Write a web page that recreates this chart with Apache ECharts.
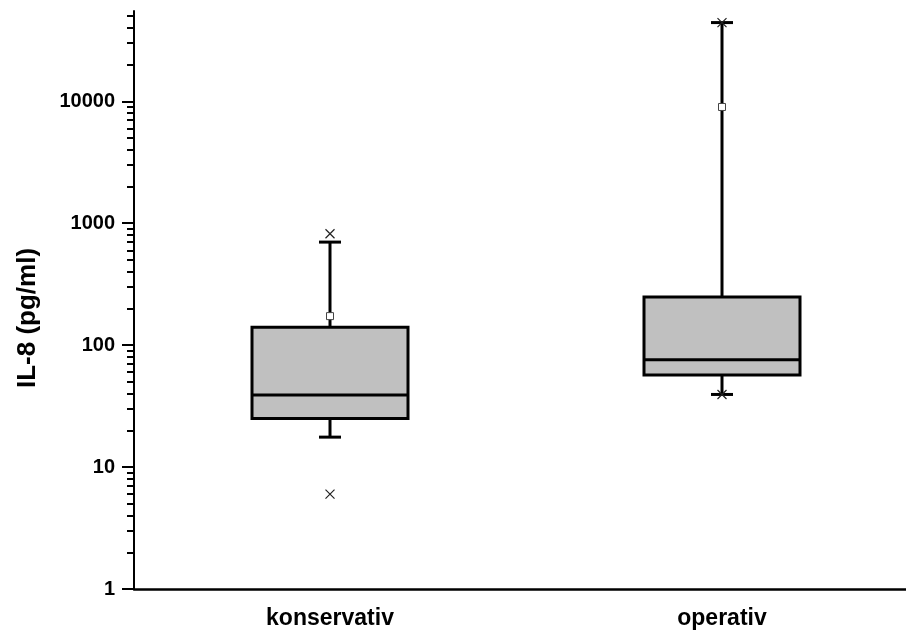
<!DOCTYPE html>
<html>
<head>
<meta charset="utf-8">
<script src="https://cdn.jsdelivr.net/npm/echarts@6/dist/echarts.min.js"></script>
<style>
  html, body { margin: 0; padding: 0; background: #fff; }
  #IL8Chart { width: 906px; height: 636px; }
</style>
</head>
<body>
<div id="IL8Chart"></div>
<script>
var groups = ['konservativ', 'operativ'];
var q1Data = [25, 57];
var medianData = [39, 76];
var q3Data = [140, 248];
var whiskerLow = [17.6, 39.4];
var whiskerHigh = [700, 44200];
var meanData = [173, 8980];
var minData = [6, 39.4];
var maxData = [820, 44200];
var majorTicks = [1, 10, 100, 1000, 10000];
var minorTicks = [2, 3, 4, 5, 6, 7, 8, 9, 20, 30, 40, 50, 60, 70, 80, 90,
  200, 300, 400, 500, 600, 700, 800, 900, 2000, 3000, 4000, 5000, 6000, 7000, 8000, 9000,
  20000, 30000, 40000, 50000];

var IL8Chart = echarts.init(document.getElementById('IL8Chart'));

var boxData = [];
var whiskerData = [];
var meanPoints = [];
var extremePoints = [];
for (var i = 0; i < groups.length; i++) {
  // box only, whiskers come from the custom series
  boxData.push([q1Data[i], q1Data[i], medianData[i], q3Data[i], q3Data[i]]);
  whiskerData.push([i, whiskerLow[i], q1Data[i], q3Data[i], whiskerHigh[i]]);
  meanPoints.push([i, meanData[i]]);
  extremePoints.push([i, minData[i]]);
  extremePoints.push([i, maxData[i]]);
}

function renderWhisker(params, api) {
  var x = api.value(0);
  var lo = api.coord([x, api.value(1)]);
  var b = api.coord([x, api.value(2)]);
  var t = api.coord([x, api.value(3)]);
  var hi = api.coord([x, api.value(4)]);
  var cap = 11;
  var st = { stroke: '#000', lineWidth: 3 };
  return {
    type: 'group',
    children: [
      { type: 'line', shape: { x1: hi[0], y1: hi[1], x2: t[0], y2: t[1] }, style: st },
      { type: 'line', shape: { x1: lo[0], y1: lo[1], x2: b[0], y2: b[1] }, style: st },
      { type: 'line', shape: { x1: hi[0] - cap, y1: hi[1], x2: hi[0] + cap, y2: hi[1] }, style: st },
      { type: 'line', shape: { x1: lo[0] - cap, y1: lo[1], x2: lo[0] + cap, y2: lo[1] }, style: st }
    ]
  };
}

var option = {
  animation: false,
  grid: {
    left: 134,
    right: -12,
    top: 11,
    bottom: 47,
    containLabel: false,
    outerBoundsMode: 'none'
  },
  xAxis: {
    type: 'category',
    data: groups,
    axisLine: { lineStyle: { color: '#000', width: 2.5 } },
    axisTick: { alignWithLabel: true, length: 11, lineStyle: { color: '#000', width: 2 } },
    axisLabel: {
      color: '#000',
      fontFamily: 'Liberation Sans, Arial, sans-serif',
      fontWeight: 'bold',
      fontSize: 23,
      margin: 18
    },
    splitLine: { show: false }
  },
  yAxis: [{
    type: 'log',
    min: 1,
    max: 55000,
    name: 'IL-8 (pg/ml)',
    nameLocation: 'middle',
    nameRotate: 90,
    nameGap: 93,
    nameTextStyle: {
      color: '#000',
      fontFamily: 'Liberation Sans, Arial, sans-serif',
      fontWeight: 'bold',
      fontSize: 26,
      padding: [0, 36, 0, 0]
    },
    axisLine: { show: true, lineStyle: { color: '#000', width: 2 } },
    axisTick: { show: true, customValues: majorTicks, length: 12, lineStyle: { color: '#000', width: 2 } },
    axisLabel: {
      customValues: majorTicks,
      color: '#000',
      fontFamily: 'Liberation Sans, Arial, sans-serif',
      fontWeight: 'bold',
      fontSize: 20,
      margin: 19,
      formatter: function (v) { return String(Math.round(v)); }
    },
    splitLine: { show: false }
  }, {
    type: 'log',
    min: 1,
    max: 55000,
    position: 'left',
    axisLine: { show: false },
    axisTick: { show: true, customValues: minorTicks, length: 7, lineStyle: { color: '#000', width: 2 } },
    axisLabel: { show: false },
    splitLine: { show: false }
  }],
  series: [
    {
      name: 'whisker',
      type: 'custom',
      renderItem: renderWhisker,
      encode: { x: 0, y: [1, 2, 3, 4] },
      data: whiskerData,
      z: 1
    },
    {
      name: 'IL-8',
      type: 'boxplot',
      boxWidth: [156, 156],
      itemStyle: { color: '#c0c0c0', borderColor: '#000', borderWidth: 3 },
      data: boxData,
      z: 2
    },
    {
      name: 'mean',
      type: 'scatter',
      symbol: 'rect',
      symbolSize: 7,
      itemStyle: { color: '#fff', borderColor: '#444', borderWidth: 1, opacity: 1 },
      data: meanPoints,
      z: 3
    },
    {
      name: 'min/max',
      type: 'scatter',
      symbol: 'path://M0,0L10,10M10,0L0,10',
      symbolSize: 9,
      itemStyle: { color: 'none', borderColor: '#222', borderWidth: 1.2, opacity: 1 },
      data: extremePoints,
      z: 4
    }
  ]
};

IL8Chart.setOption(option);
</script>
</body>
</html>
